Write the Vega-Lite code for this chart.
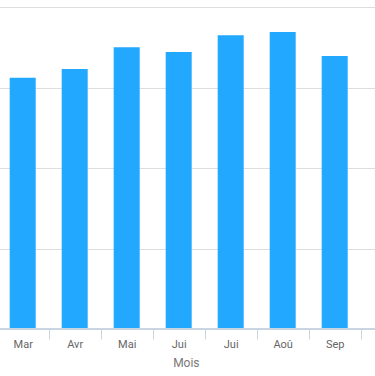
{
  "$schema": "https://vega.github.io/schema/vega-lite/v6.json",
  "autosize": "none",
  "width": 375,
  "height": 322,
  "padding": {"top": 7, "left": 0, "right": 0, "bottom": 47},
  "background": "white",
  "config": {"view": {"stroke": null}, "font": "Roboto"},
  "data": {"values": [
    {"mois": "Mar", "valeur": 312},
    {"mois": "Avr", "valeur": 323},
    {"mois": "Mai", "valeur": 350},
    {"mois": "Juin", "valeur": 344},
    {"mois": "Juil", "valeur": 365},
    {"mois": "Aoû", "valeur": 369},
    {"mois": "Sep", "valeur": 339}
  ]},
  "layer": [
    {
      "mark": {"type": "bar", "color": "#22A9FF", "width": {"band": 0.5}},
      "encoding": {
        "x": {
          "field": "mois", "type": "nominal", "sort": null, "title": "Mois",
          "scale": {"range": [-3.3, 375], "paddingInner": 0, "paddingOuter": 0.1375, "align": 0},
          "axis": {
            "labelAngle": 0, "labelExpr": "datum.value == 'Juin' || datum.value == 'Juil' ? 'Jui' : datum.label",
            "tickBand": "extent", "tickSize": 10, "tickColor": "#C9D5E1", "domainColor": "#C9D5E1",
            "labelColor": "#666666", "labelFontSize": 11, "labelPadding": -1,
            "titleColor": "#777777", "titleFontSize": 12, "titleFontWeight": "normal", "titlePadding": 8,
            "grid": false
          }
        },
        "y": {
          "field": "valeur", "type": "quantitative",
          "scale": {"domain": [0, 400]},
          "axis": {"labels": false, "ticks": false, "domain": false, "title": null, "tickCount": 4, "gridColor": "#DDDDDD"}
        }
      }
    },
    {
      "mark": {"type": "rule", "color": "#C9D5E1"},
      "encoding": {"y": {"datum": 0, "type": "quantitative"}}
    }
  ]
}
